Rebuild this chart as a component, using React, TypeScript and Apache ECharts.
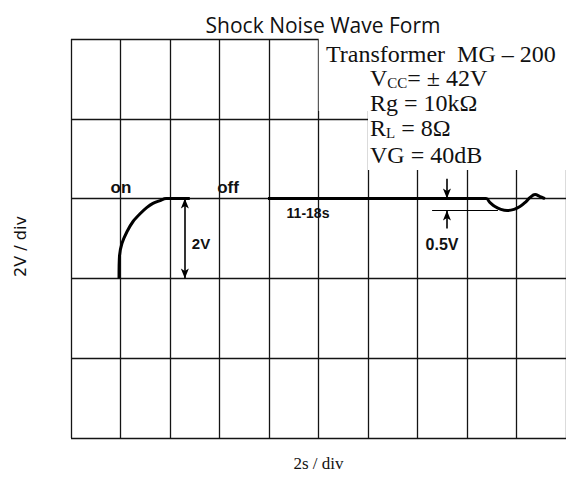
import React, { useEffect, useRef } from "react";
import * as echarts from "echarts";

const titleText = "Shock Noise Wave Form";
const xAxisName = "2s / div";
const yAxisName = "2V / div";

// time in seconds, voltage in volts
const turnOnCurve: [number, number][] = [
  [1.94, -2], [1.96, -1.43], [2.06, -1.12], [2.26, -0.83], [2.5, -0.58],
  [2.79, -0.38], [3.07, -0.22], [3.31, -0.12], [3.6, -0.05], [3.84, 0], [4.8, 0],
];
const turnOffCurve: [number, number][] = [
  [7.96, 0], [16.77, 0], [16.93, -0.1], [17.13, -0.2], [17.37, -0.27], [17.62, -0.3],
  [17.9, -0.27], [18.14, -0.2], [18.38, -0.08], [18.55, 0.03], [18.75, 0.1],
  [18.95, 0.05], [19.15, 0],
];
const specLines = ["Transformer  MG – 200", "V{sub|CC}= ± 42V", "Rg = 10kΩ", "R{sub|L} = 8Ω", "VG = 40dB"];
const labelOn = "on";
const labelOff = "off";
const label2V = "2V";
const label05V = "0.5V";
const labelDuration = "11-18s";

export default function App() {
  const ref = useRef<HTMLDivElement>(null);
  useEffect(() => {
    const chart = echarts.init(ref.current!, null, { renderer: "svg" });
    const lineStyleGrid = { color: "#141414", width: 1.3 };
    const bold = { fontFamily: "Liberation Sans", fontWeight: "bold" as const, fill: "#111" };
    const serif = "Liberation Serif";
    chart.setOption({
      animation: false,
      backgroundColor: "#fff",
      title: {
        text: titleText,
        left: 318,
        top: 9,
        textAlign: "center",
        textStyle: { fontFamily: "Open Sans", fontSize: 21, fontWeight: "normal", color: "#111" },
      },
      grid: { left: 71, top: 39, width: 495, height: 400, show: false },
      xAxis: {
        type: "value",
        min: 0,
        max: 20,
        interval: 2,
        name: xAxisName,
        nameLocation: "middle",
        nameGap: 17,
        nameTextStyle: { fontFamily: serif, fontSize: 17, color: "#111" },
        axisLine: { show: false },
        axisTick: { show: false },
        axisLabel: { show: false },
        splitLine: { show: true, lineStyle: lineStyleGrid },
      },
      yAxis: {
        type: "value",
        min: -6,
        max: 4,
        interval: 2,
        name: yAxisName,
        nameLocation: "middle",
        nameGap: 43,
        nameRotate: 90,
        nameTextStyle: { fontFamily: "DejaVu Sans", fontSize: 16, color: "#111", padding: [0, 16, 0, 0] },
        axisLine: { show: false },
        axisTick: { show: false },
        axisLabel: { show: false },
        splitLine: { show: true, lineStyle: lineStyleGrid },
      },
      series: [
        {
          type: "line",
          data: turnOnCurve,
          showSymbol: false,
          smooth: 0.3,
          lineStyle: { color: "#000", width: 3 },
          markLine: {
            silent: true,
            symbol: ["arrow", "arrow"],
            symbolSize: [6, 10],
            label: { show: false },
            lineStyle: { color: "#000", width: 1.6, type: "solid" },
            data: [[{ coord: [4.6, 0] }, { coord: [4.6, -2] }]],
          },
          z: 5,
        },
        {
          type: "line",
          data: turnOffCurve,
          showSymbol: false,
          smooth: 0.4,
          lineStyle: { color: "#000", width: 3 },
          markLine: {
            silent: true,
            symbol: ["none", "arrow"],
            symbolSize: [6, 10],
            label: { show: false },
            lineStyle: { color: "#000", width: 1.6, type: "solid" },
            data: [
              [{ coord: [15.19, 0.5] }, { coord: [15.19, 0] }],
              [{ coord: [15.19, -0.75] }, { coord: [15.19, -0.3] }],
              [{ coord: [14.59, -0.3], symbol: "none" }, { coord: [17.25, -0.3], symbol: "none", lineStyle: { width: 1 } }],
            ],
          },
          z: 5,
        },
      ],
      graphic: [
        { type: "rect", shape: { x: 318.7, y: 36, width: 250, height: 75 }, style: { fill: "#fff" }, z: 10 },
        { type: "rect", shape: { x: 368, y: 110, width: 200, height: 60 }, style: { fill: "#fff" }, z: 10 },
        ...specLines.map((t, i) => ({
          type: "text",
          x: i === 0 ? 326 : 370,
          y: [54, 78, 103, 128, 155][i],
          z: 11,
          style: {
            text: t,
            fontFamily: serif,
            fontSize: 24,
            lineHeight: 22,
            fill: "#111",
            verticalAlign: "middle",
            rich: { sub: { fontFamily: serif, fontSize: 15, lineHeight: 10, fill: "#111", padding: [10, 0, 0, 0] } },
          },
        })),
        { type: "text", x: 121, y: 187, z: 11, style: { ...bold, text: labelOn, fontSize: 17, align: "center", verticalAlign: "middle" } },
        { type: "text", x: 228, y: 187, z: 11, style: { ...bold, text: labelOff, fontSize: 17, align: "center", verticalAlign: "middle" } },
        { type: "text", x: 201, y: 243, z: 11, style: { ...bold, text: label2V, fontSize: 15, align: "center", verticalAlign: "middle" } },
        { type: "text", x: 308, y: 213, z: 11, style: { ...bold, text: labelDuration, fontSize: 14, align: "center", verticalAlign: "middle" } },
        { type: "text", x: 442, y: 244, z: 11, style: { ...bold, text: label05V, fontSize: 16, align: "center", verticalAlign: "middle" } },
      ],
    });
    return () => chart.dispose();
  }, []);
  return <div ref={ref} style={{ position: "absolute", left: 0, top: 0, width: 566, height: 477 }} />;
}
